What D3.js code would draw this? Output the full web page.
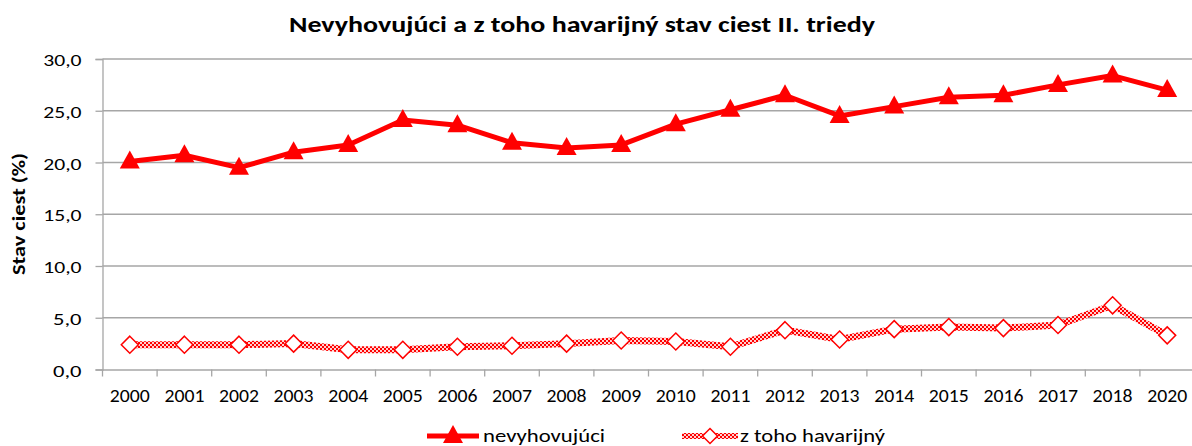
<!DOCTYPE html>
<html><head><meta charset="utf-8">
<script src="https://cdn.jsdelivr.net/npm/d3@7"></script>
<style>body{margin:0;background:#fff}svg{display:block}</style>
</head><body>
<svg id="c" width="1192" height="446"></svg>
<script>
const years = ["2000","2001","2002","2003","2004","2005","2006","2007","2008","2009","2010","2011","2012","2013","2014","2015","2016","2017","2018","2020"];
const nevyhovujuci = [20.1,20.7,19.5,21.0,21.7,24.1,23.6,21.9,21.4,21.7,23.7,25.1,26.5,24.5,25.4,26.3,26.5,27.5,28.4,27.0];
const havarijny = [2.4,2.4,2.4,2.5,1.9,1.9,2.2,2.3,2.5,2.8,2.7,2.2,3.8,2.9,3.9,4.1,4.0,4.3,6.2,3.3];
const yTicks = [0,5,10,15,20,25,30];
const titleText = "Nevyhovujúci a z toho havarijný stav ciest II. triedy";
const yTitle = "Stav ciest (%)";
const seriesNames = ["nevyhovujúci","z toho havarijný"];

(function(){
const font = "Carlito, Calibri, Lato, sans-serif";
const svg = d3.select("#c");
const pLeft = 102.5, pTop = 59, pBottom = 369.5, step = 54.6;
const x = d3.scaleBand().domain(years).range([pLeft, pLeft + step*years.length]).padding(0);
const y = d3.scaleLinear().domain([0,30]).range([pBottom, pTop]);
const red = "#ff0000";

const defs = svg.append("defs");
const pat = defs.append("pattern").attr("id","chk").attr("patternUnits","userSpaceOnUse").attr("width",4).attr("height",4);
pat.append("rect").attr("width",4).attr("height",4).attr("fill","#ffd0d0");
pat.append("rect").attr("width",2).attr("height",2).attr("fill",red);
pat.append("rect").attr("x",2).attr("y",2).attr("width",2).attr("height",2).attr("fill",red);

svg.append("g").selectAll("line").data(yTicks.filter(d=>d>0)).join("line")
  .attr("x1",pLeft).attr("x2",1192).attr("y1",d=>y(d)).attr("y2",d=>y(d))
  .attr("stroke","#a6a6a6").attr("stroke-width",1.3);

const ya = svg.append("g").attr("transform",`translate(${pLeft},0)`)
  .call(d3.axisLeft(y).tickValues(yTicks).tickSize(7).tickPadding(14).tickFormat(d=>d3.format(".1f")(d).replace(".",",")));
ya.select(".domain").attr("stroke","#a6a6a6").attr("stroke-width",1.3);
ya.selectAll(".tick line").attr("stroke","#a6a6a6").attr("stroke-width",1.3);
ya.selectAll("text").attr("font-family",font).attr("font-size",16.6).attr("fill","#000")
  .attr("dy",null).attr("y",6.7)
  .attr("textLength",function(d){return d>=10?38.3:28.5;}).attr("lengthAdjust","spacingAndGlyphs");

const xa = svg.append("g").attr("transform",`translate(0,${pBottom})`)
  .call(d3.axisBottom(x).tickSize(0).tickPadding(0));
xa.select(".domain").attr("stroke","#a6a6a6").attr("stroke-width",1.3);
xa.selectAll("text").attr("font-family",font).attr("font-size",18).attr("fill","#000")
  .attr("dy",null).attr("y",32).attr("textLength",40).attr("lengthAdjust","spacingAndGlyphs");
xa.append("g").selectAll("line").data(years).join("line")
  .attr("x1",d=>x(d)).attr("x2",d=>x(d)).attr("y1",0).attr("y2",7)
  .attr("stroke","#a6a6a6").attr("stroke-width",1.3);

const cx = d=>x(d)+x.bandwidth()/2;
const line = d3.line().x((d,i)=>cx(years[i])).y(d=>y(d));

svg.append("path").datum(havarijny).attr("d",line).attr("fill","none")
  .attr("stroke","url(#chk)").attr("stroke-width",7);
const diamond = s => `M0,${-s}L${s},0L0,${s}L${-s},0Z`;
svg.append("g").selectAll("path").data(havarijny).join("path")
  .attr("transform",(d,i)=>`translate(${cx(years[i])},${y(d)})`)
  .attr("d",diamond(8.5)).attr("fill","#fff").attr("stroke",red).attr("stroke-width",1.5);

svg.append("path").datum(nevyhovujuci).attr("d",line).attr("fill","none")
  .attr("stroke",red).attr("stroke-width",5).attr("stroke-linejoin","round");
const tri = "M0,-11L10,7L-10,7Z";
svg.append("g").selectAll("path").data(nevyhovujuci).join("path")
  .attr("transform",(d,i)=>`translate(${cx(years[i])},${y(d)})`)
  .attr("d",tri).attr("fill",red);

svg.append("text").attr("x",582).attr("y",32).attr("text-anchor","middle")
  .attr("font-family",font).attr("font-weight","bold").attr("font-size",23)
  .attr("textLength",586).attr("lengthAdjust","spacingAndGlyphs").text(titleText);
svg.append("text").attr("transform","translate(25,214) rotate(-90)").attr("text-anchor","middle")
  .attr("font-family",font).attr("font-weight","bold").attr("font-size",18.5)
  .attr("textLength",122).attr("lengthAdjust","spacingAndGlyphs").text(yTitle);

const lg = svg.append("g");
lg.append("line").attr("x1",427).attr("x2",479).attr("y1",436).attr("y2",436).attr("stroke",red).attr("stroke-width",5);
lg.append("path").attr("transform","translate(453,436)").attr("d",tri).attr("fill",red);
lg.append("text").attr("x",483).attr("y",442).attr("font-family",font).attr("font-size",18.5)
  .attr("textLength",122).attr("lengthAdjust","spacingAndGlyphs").text(seriesNames[0]);
lg.append("line").attr("x1",682).attr("x2",738).attr("y1",436).attr("y2",436).attr("stroke","url(#chk)").attr("stroke-width",6);
lg.append("path").attr("transform","translate(710,436)").attr("d",diamond(7.5)).attr("fill","#fff").attr("stroke",red).attr("stroke-width",1.5);
lg.append("text").attr("x",740).attr("y",442).attr("font-family",font).attr("font-size",18.5)
  .attr("textLength",145).attr("lengthAdjust","spacingAndGlyphs").text(seriesNames[1]);
})();
</script>
</body></html>
